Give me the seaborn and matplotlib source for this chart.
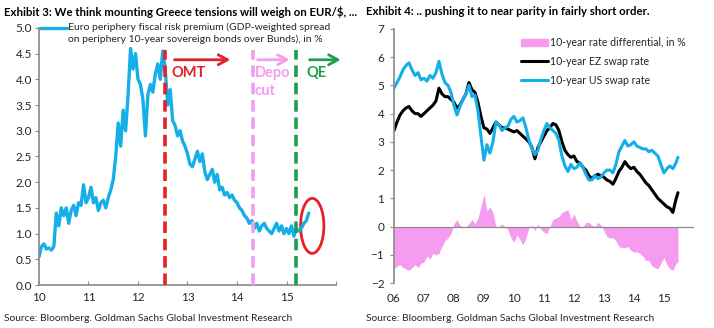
import numpy as np
import pandas as pd
import matplotlib
matplotlib.use("Agg")
import matplotlib.pyplot as plt
from matplotlib.patches import Ellipse, Patch
from matplotlib.lines import Line2D
import seaborn as sns

# ---------------- data ----------------
# Exhibit 3: periphery spread, sampled every 0.05 year from 2010.00
spread_step = 0.05
spread = [0.55, 0.75, 0.80, 0.70, 0.72, 0.68, 0.75, 1.40, 1.15, 1.50,
          1.35, 1.50, 1.20, 1.45, 1.55, 1.35, 1.60, 1.55, 1.95, 1.60,
          1.70, 1.90, 1.60, 1.70, 1.45, 1.60, 1.65, 1.50, 1.70, 1.85,
          2.05, 2.50, 3.15, 2.70, 3.40, 3.00, 3.70, 4.60, 4.20, 4.50,
          4.00, 3.90, 3.60, 2.90, 3.70, 3.90, 3.75, 4.10, 4.30, 4.00,
          4.55, 4.20, 3.50, 3.80, 3.20, 3.10, 2.90, 3.00, 2.80, 2.70,
          2.55, 2.35, 2.30, 2.45, 2.60, 2.40, 2.55, 2.20, 2.05, 2.15,
          2.25, 2.00, 2.15, 1.85, 1.90, 1.75, 1.80, 1.70, 1.75, 1.65,
          1.60, 1.50, 1.45, 1.35, 1.30, 1.20, 1.25, 1.10, 1.20, 1.05,
          1.15, 1.20, 1.10, 1.05, 1.00, 1.10, 1.20, 1.05, 1.15, 1.00,
          1.10, 1.00, 1.15, 0.95, 1.10, 1.05, 1.10, 1.20, 1.25, 1.40]
event_years = [12.55, 14.33, 15.19]
event_labels = ["OMT", "Depo\ncut", "QE"]
event_colors = ["#E5202B", "#F49CEE", "#1E9E4C"]
event_top = 4.57
arrow_spans = [(12.68, 13.92), (14.36, 15.12), (15.41, 16.15)]
arrow_level = 4.38
label_level = 4.25
circle_center = (15.52, 1.15)
circle_size = (0.47, 1.07)

# Exhibit 4: swap rates, sampled every 0.1 year from 2006.0 (last point 2015.47)
swap_years = [2006.0 + 0.1 * i for i in range(95)] + [2015.47]
us_swap = [4.90, 5.10, 5.30, 5.55, 5.70, 5.80, 5.55, 5.35, 5.45, 5.20,
           5.25, 5.15, 5.35, 5.25, 5.45, 5.85, 5.40, 5.10, 5.00, 4.75,
           4.30, 3.95, 4.25, 4.50, 4.70, 5.00, 4.60, 4.65, 4.10, 3.20,
           2.35, 2.90, 2.60, 3.00, 3.70, 3.60, 3.40, 3.50, 3.55, 3.80,
           3.90, 3.70, 3.75, 3.85, 3.50, 3.05, 2.75, 2.55, 2.70, 3.10,
           3.40, 3.65, 3.50, 3.40, 3.30, 3.05, 2.50, 2.15, 1.95, 2.20,
           2.05, 2.10, 2.25, 2.10, 1.85, 1.65, 1.65, 1.80, 1.70, 1.75,
           1.90, 2.00, 2.00, 1.90, 2.20, 2.65, 2.85, 3.05, 2.85, 2.90,
           3.00, 2.85, 2.80, 2.75, 2.75, 2.65, 2.70, 2.60, 2.50, 2.20,
           1.90, 2.05, 2.15, 2.05, 2.25, 2.45]
ez_swap = [3.40, 3.70, 3.95, 4.10, 4.20, 4.25, 4.10, 4.00, 4.00, 3.90,
           4.00, 4.10, 4.20, 4.30, 4.45, 4.90, 4.70, 4.60, 4.60, 4.50,
           4.40, 4.20, 4.30, 4.50, 4.70, 5.10, 4.85, 4.75, 4.40, 3.90,
           3.50, 3.45, 3.30, 3.50, 3.70, 3.60, 3.50, 3.50, 3.45, 3.40,
           3.35, 3.40, 3.30, 3.20, 3.10, 3.00, 2.80, 2.40, 2.80, 3.00,
           3.20, 3.40, 3.50, 3.65, 3.60, 3.40, 3.00, 2.70, 2.55, 2.45,
           2.50, 2.30, 2.25, 2.10, 2.00, 1.80, 1.70, 1.80, 1.85, 1.80,
           1.75, 1.65, 1.60, 1.50, 1.70, 1.95, 2.10, 2.30, 2.15, 2.05,
           2.10, 1.95, 1.85, 1.70, 1.55, 1.45, 1.30, 1.15, 1.00, 0.90,
           0.80, 0.70, 0.65, 0.50, 0.95, 1.20]
left_xticks = [10, 11, 12, 13, 14, 15, 16]
left_xlabels = ["10", "11", "12", "13", "14", "15", ""]
right_xticks = list(range(2006, 2017))
right_xlabels = ["06", "07", "08", "09", "10", "11", "12", "13", "14", "15", ""]

title3 = "Exhibit 3: We think mounting Greece tensions will weigh on EUR/$, ..."
title4 = "Exhibit 4: .. pushing it to near parity in fairly short order."
source = "Source: Bloomberg. Goldman Sachs Global Investment Research"
legend3 = "Euro periphery fiscal risk premium (GDP-weighted spread\non periphery 10-year sovereign bonds over Bunds), in %"
legend4 = ["10-year rate differential, in %", "10-year EZ swap rate", "10-year US swap rate"]

# ---------------- style ----------------
sns.set_theme(style="ticks")
plt.rcParams["font.family"] = ["Lato", "DejaVu Sans"]
BLUE = "#14AEE8"
PINK = "#F59CF0"
AX = "#8C8C8C"
TXT = "#262626"

df3 = pd.DataFrame({"year": 10 + np.arange(len(spread)) * spread_step, "spread": spread})
df4 = pd.DataFrame({"year": swap_years, "us": us_swap, "ez": ez_swap})
df4["diff"] = df4["ez"] - df4["us"]

fig = plt.figure(figsize=(7.14, 3.28), dpi=100)
ax1 = fig.add_axes([0.0546, 0.131, 0.416, 0.784])
ax2 = fig.add_axes([0.5518, 0.137, 0.420, 0.775])

# ---- left panel ----
sns.lineplot(data=df3, x="year", y="spread", ax=ax1, color=BLUE, lw=2.4)
for x, lab, c, (a0, a1) in zip(event_years, event_labels, event_colors, arrow_spans):
    ax1.vlines(x, 0, event_top, colors=c, lw=2.6, linestyles=(0, (3.2, 1.6)), zorder=3)
    ax1.annotate("", xy=(a1, arrow_level), xytext=(a0, arrow_level),
                 arrowprops=dict(arrowstyle="->,head_length=0.55,head_width=0.3", color=c, lw=2),
                 annotation_clip=False)
    ax1.text(a0, label_level, lab, color=c, fontsize=10.5, fontweight="bold", va="top", ha="left",
             linespacing=1.3)
ax1.add_patch(Ellipse(circle_center, circle_size[0], circle_size[1], fill=False, ec="#E5202B", lw=2))
ax1.set_xlim(10, 16)
ax1.set_ylim(0, 5)
ax1.set_xticks(left_xticks)
ax1.set_xticklabels(left_xlabels)
ax1.set_yticks(np.arange(0, 5.01, 0.5))
ax1.set_yticklabels([f"{v:.1f}" for v in np.arange(0, 5.01, 0.5)])
ax1.set_xlabel("")
ax1.set_ylabel("")
sns.despine(ax=ax1)
for s in ["left", "bottom"]:
    ax1.spines[s].set_color(AX)
ax1.tick_params(axis="y", colors=AX, labelcolor=TXT, labelsize=8.5, length=3, width=0.8, pad=2)
ax1.tick_params(axis="x", colors=AX, labelcolor=TXT, labelsize=8.5, length=3, width=0.8, pad=5,
                direction="in")
ax1.add_line(Line2D([0.004, 0.094], [1.0, 1.0], transform=ax1.transAxes, color=BLUE, lw=2.4,
                    clip_on=False))
ax1.text(0.099, 1.022, legend3, transform=ax1.transAxes, fontsize=7.5, color=TXT, va="top",
         ha="left", linespacing=1.35)

# ---- right panel ----
ax2.fill_between(df4["year"], df4["diff"], 0, color=PINK, lw=0)
sns.lineplot(data=df4, x="year", y="ez", ax=ax2, color="black", lw=2.2)
sns.lineplot(data=df4, x="year", y="us", ax=ax2, color=BLUE, lw=2.2)
ax2.axhline(0, color=AX, lw=0.9, zorder=1)
ax2.set_xlim(2006, 2016)
ax2.set_ylim(-2, 7)
ax2.set_yticks(range(-2, 8))
ax2.set_xticks(right_xticks)
ax2.set_xticklabels(right_xlabels)
ax2.set_xlabel("")
ax2.set_ylabel("")
sns.despine(ax=ax2, bottom=True)
ax2.spines["left"].set_color(AX)
ax2.tick_params(axis="y", colors=AX, labelcolor=TXT, labelsize=8.5, length=3, width=0.8, pad=4)
ax2.tick_params(axis="x", colors=AX, labelcolor=TXT, labelsize=8.5, length=0, pad=7)
handles = [Patch(color=PINK), Line2D([], [], color="black", lw=2.2), Line2D([], [], color=BLUE, lw=2.2)]
ax2.legend(handles, legend4, loc="upper left", bbox_to_anchor=(0.41, 0.985), frameon=False,
           fontsize=7.6, handlelength=2.5, handletextpad=0.25, labelspacing=0.75, borderaxespad=0,
           labelcolor=TXT)

fig.text(0.006, 0.982, title3, fontsize=8.2, fontweight="bold", color="black", va="top")
fig.text(0.513, 0.982, title4, fontsize=8.2, fontweight="bold", color="black", va="top")
fig.text(0.006, 0.015, source, fontsize=7.4, color=TXT, va="bottom")
fig.text(0.513, 0.015, source, fontsize=7.4, color=TXT, va="bottom")

fig.savefig("out.png", dpi=100)
